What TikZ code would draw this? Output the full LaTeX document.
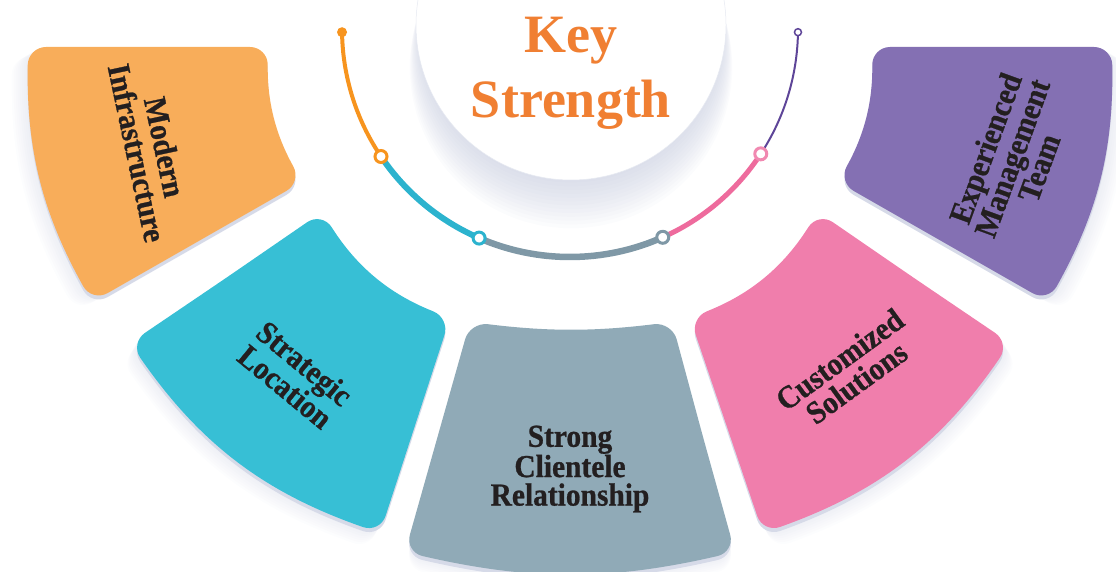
\documentclass[tikz,border=0pt]{standalone}
\usepackage{fontspec}
\setmainfont{Liberation Serif}
\newfontfamily\boxfont[FakeStretch=0.92,FakeBold=0.8]{Liberation Serif}
\usetikzlibrary{calc}
\definecolor{boxorange}{HTML}{F8AD5A}
\definecolor{boxcyan}{HTML}{37BFD5}
\definecolor{boxgray}{HTML}{90AAB7}
\definecolor{boxpink}{HTML}{F07EAC}
\definecolor{boxpurple}{HTML}{8470B3}
\definecolor{edgec}{HTML}{D6DAE8}
\definecolor{shadowc}{HTML}{B8BFD6}
\definecolor{titleorange}{HTML}{F07F32}
\definecolor{textc}{HTML}{231F20}
\definecolor{segorange}{HTML}{F7941E}
\definecolor{segcyan}{HTML}{2CB3CE}
\definecolor{seggray}{HTML}{7F98A6}
\definecolor{segpink}{HTML}{EE6B9D}
\definecolor{segpurple}{HTML}{5E4598}
\newcommand\orangepath{(148,47) -- (268,47) to[bend right=15] (302,182) -- (92,302) to[bend left=15] (28,47) -- cycle}
\newcommand\cyanpath{(226,278) -- (322,212) to[bend right=18] (450,318) -- (380,533) to[bend left=18] (130,343) -- cycle}
\newcommand\graypath{(703,437) -- (735,552) to[bend left=13] (405,552) -- (470,322) to[bend right=7] (672,322) -- cycle}
\newcommand\pinkpath{(914,278) -- (1010,343) to[bend left=18] (763,533) -- (690,318) to[bend right=18] (818,212) -- cycle}
\newcommand\purplepath{(992,47) -- (1112,47) to[bend left=15] (1048,302) -- (838,182) to[bend right=15] (872,47) -- cycle}
\newcommand\softshadow[3]{\foreach \k in {2,4,...,16}{\fill[shadowc,opacity=0.035,rounded corners=18,shift={(#2*\k,#3*\k)}] #1;}}
\begin{document}
\begin{tikzpicture}[x=1pt,y=-1pt,
  petal/.style={rounded corners=18},
  boxtext/.style={font=\boxfont\bfseries\fontsize{32}{28.5}\selectfont, text=textc, align=center, inner sep=0pt},
  titletext/.style={font=\fontsize{54}{65}\selectfont\bfseries, text=titleorange, inner sep=0pt, anchor=base},
  ring/.style={circle, draw=#1, fill=white, line width=3pt, minimum size=12pt, inner sep=0pt},
  seg/.style={draw=#1, line cap=round}]
\useasboundingbox (0,0) rectangle (1116,572);
% title circle shadow
\foreach \i in {1,...,14}{\fill[shadowc,opacity=0.05] (571,{25+3*\i}) circle[radius={150+\i*0.8}];}
\node[circle, fill=white, draw=edgec!60, line width=0.5pt, minimum size=310pt, inner sep=0pt] (circ) at (571,25) {};
\node[titletext] (key) at (571,53) {Key};
\node[titletext] (strength) at (571,118) {Strength};
% arc
\coordinate (p0) at ([shift={(179.2:228)}]570,29);
\coordinate (p1) at ([shift={(146:228)}]570,29);
\coordinate (p2) at ([shift={(113.5:228)}]570,29);
\coordinate (p3) at ([shift={(66:228)}]570,29);
\coordinate (p4) at ([shift={(33.2:228)}]570,29);
\coordinate (p5) at ([shift={(0.8:228)}]570,29);
\draw[seg=segorange, line width=4pt] (p0) arc[start angle=179.2, end angle=146, radius=228];
\draw[seg=segcyan, line width=6pt] (p1) arc[start angle=146, end angle=113.5, radius=228];
\draw[seg=seggray, line width=6.5pt] (p2) arc[start angle=113.5, end angle=66, radius=228];
\draw[seg=segpink, line width=5pt] (p3) arc[start angle=66, end angle=33.2, radius=228];
\draw[seg=segpurple, line width=2pt] (p4) arc[start angle=33.2, end angle=0.8, radius=228];
\node[circle, fill=segorange, minimum size=10pt, inner sep=0pt] (d0) at (p0) {};
\node[ring=segorange] (d1) at (p1) {};
\node[ring=segcyan] (d2) at (p2) {};
\node[ring=seggray] (d3) at (p3) {};
\node[ring=segpink!80] (d4) at (p4) {};
\node[circle, draw=segpurple, fill=white, line width=1.5pt, minimum size=7pt, inner sep=0pt] (d5) at (p5) {};
% boxes
\softshadow{\orangepath}{-1}{0.6}
\softshadow{\cyanpath}{-0.6}{1}
\softshadow{\graypath}{0}{1}
\softshadow{\pinkpath}{0.6}{1}
\softshadow{\purplepath}{1}{0.6}
\fill[edgec, petal, shift={(0,4)}] \orangepath;
\fill[boxorange, petal] \orangepath;
\fill[edgec, petal, shift={(0,4)}] \cyanpath;
\fill[boxcyan, petal] \cyanpath;
\fill[edgec, petal, shift={(0,4)}] \graypath;
\fill[boxgray, petal] \graypath;
\fill[edgec, petal, shift={(0,4)}] \pinkpath;
\fill[boxpink, petal] \pinkpath;
\fill[edgec, petal, shift={(0,4)}] \purplepath;
\fill[boxpurple, petal] \purplepath;
\node[boxtext, rotate=-78] (t1) at (151,150) {Modern\\Infrastructure};
\node[boxtext, rotate=-39.5] (t2) at (295,375) {Strategic\\Location};
\node[boxtext] (t3) at (570,469) {Strong\\Clientele\\Relationship};
\node[boxtext, rotate=36] (t4) at (848,371) {Customized\\Solutions};
\node[boxtext, rotate=70] (t5) at (1012,158) {Experienced\\Management\\Team};
\end{tikzpicture}
\end{document}
